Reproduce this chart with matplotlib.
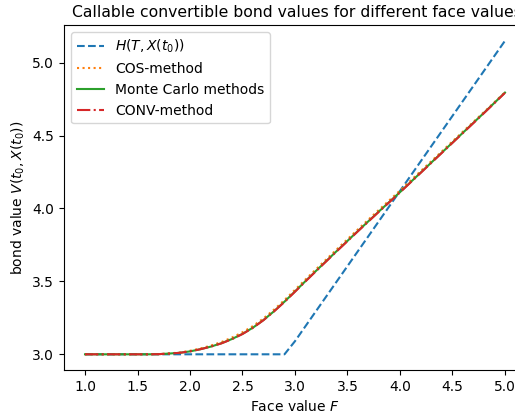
import numpy as np
import matplotlib
matplotlib.use("Agg")
import matplotlib.pyplot as plt

# face values F
face = [1.0, 1.1, 1.2, 1.3, 1.4, 1.5, 1.6, 1.7, 1.8, 1.9,
        2.0, 2.1, 2.2, 2.3, 2.4, 2.5, 2.6, 2.7, 2.8, 2.9,
        3.0, 3.1, 3.2, 3.3, 3.4, 3.5, 3.6, 3.7, 3.8, 3.9,
        4.0, 4.1, 4.2, 4.3, 4.4, 4.5, 4.6, 4.7, 4.8, 4.9, 5.0]

# payoff H(T, X(t0))
payoff = [3.0, 3.0, 3.0, 3.0, 3.0, 3.0, 3.0, 3.0, 3.0, 3.0,
          3.0, 3.0, 3.0, 3.0, 3.0, 3.0, 3.0, 3.0, 3.0, 3.0,
          3.09, 3.193, 3.296, 3.399, 3.502, 3.605, 3.708, 3.811, 3.914, 4.017,
          4.12, 4.223, 4.326, 4.429, 4.532, 4.635, 4.738, 4.841, 4.944, 5.047, 5.15]

# Monte Carlo bond values
bond_mc = [3.0, 3.0, 3.0, 3.0, 3.0, 3.0, 3.0, 3.001, 3.005, 3.010,
           3.020, 3.035, 3.053, 3.076, 3.105, 3.140, 3.183, 3.235, 3.295, 3.361,
           3.431, 3.502, 3.572, 3.641, 3.710, 3.778, 3.846, 3.913, 3.980, 4.046,
           4.112, 4.180, 4.248, 4.316, 4.384, 4.452, 4.520, 4.588, 4.656, 4.725, 4.795]

# CONV-method bond values
bond_conv = [3.0, 3.0, 3.0, 3.0, 3.0, 3.0, 3.0, 3.001, 3.005, 3.010,
             3.020, 3.035, 3.053, 3.075, 3.104, 3.139, 3.182, 3.234, 3.294, 3.359,
             3.429, 3.500, 3.570, 3.639, 3.708, 3.776, 3.844, 3.911, 3.978, 4.044,
             4.110, 4.178, 4.246, 4.314, 4.382, 4.450, 4.518, 4.586, 4.654, 4.723, 4.793]

# COS-method sits a touch above the others
bond_cos = [3.0, 3.0, 3.0, 3.0, 3.0, 3.0, 3.0, 3.001, 3.006, 3.012,
            3.024, 3.040, 3.060, 3.084, 3.115, 3.151, 3.194, 3.246, 3.306, 3.372,
            3.442, 3.513, 3.583, 3.652, 3.721, 3.789, 3.857, 3.924, 3.991, 4.057,
            4.123, 4.190, 4.258, 4.325, 4.392, 4.460, 4.527, 4.594, 4.661, 4.729, 4.797]

fig = plt.figure(figsize=(5.15, 4.12), dpi=100)
ax = fig.add_axes([0.1243, 0.102, 0.897, 0.837])

ax.plot(face, payoff, '--', color='C0', label=r'$H(T,X(t_0))$')
ax.plot(face, bond_cos, ':', color='C1', label='COS-method')
ax.plot(face, bond_mc, '-', color='C2', label='Monte Carlo methods')
ax.plot(face, bond_conv, '-.', color='C3', label='CONV-method')

ax.set_xlabel("Face value $F$")
ax.set_ylabel(r"bond value $V(t_0,X(t_0))$")
ax.set_xticks(np.arange(1.0, 5.01, 0.5))
ax.set_yticks(np.arange(3.0, 5.01, 0.5))
ax.legend(loc='upper left')

# title: fit it to the span it has in the original (x 72..517 px)
title = fig.text(72 / 515, 1 - 17 / 412,
                 "Callable convertible bond values for different face values",
                 fontsize=12, ha='left', va='baseline')
fig.canvas.draw()
w = title.get_window_extent().width
title.set_fontsize(12 * 445 / w)

plt.savefig("out.png", dpi=100)
